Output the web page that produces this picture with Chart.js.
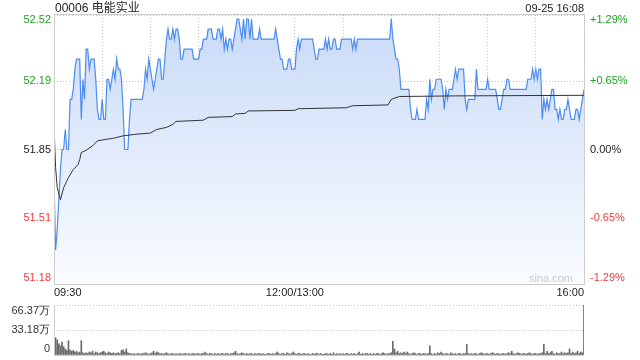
<!DOCTYPE html>
<html><head><meta charset="utf-8">
<script src="https://cdn.jsdelivr.net/npm/chart.js@4.4.0/dist/chart.umd.min.js"></script>
<style>
html,body{margin:0;padding:0;background:#fff;width:640px;height:360px;overflow:hidden;font-family:"Liberation Sans","Noto Sans CJK SC",sans-serif;}
#c1{position:absolute;left:0;top:0;}
#c2{position:absolute;left:0;top:300px;}
.t{position:absolute;color:#222;white-space:nowrap;line-height:16px;}
</style></head><body>
<canvas id="c1" width="640" height="300"></canvas>
<canvas id="c2" width="640" height="60"></canvas>
<div class="t" style="left:55px;top:0px;font-size:12px;">00006 电能实业</div>
<div class="t" style="right:56px;top:0px;font-size:11px;">09-25 16:08</div>
<script>
const prevClose = 51.85;
const priceTicks = [51.18, 51.51, 51.85, 52.19, 52.52];
const pctTicks = ['-1.29%', '-0.65%', '0.00%', '+0.65%', '+1.29%'];
const timeTicks = [0, 150, 330];
const timeLabels = ['09:30', '12:00/13:00', '16:00'];
const volTicks = [0, 33.18, 66.37];
const volLabels = ['0', '33.18万', '66.37万'];

// minute-by-minute last price, 09:30 .. 16:00 (331 minutes incl. lunch join)
const price = [
51.70,51.35,51.45,51.60,51.75,51.85,51.85,51.95,51.85,51.85,
52.10,52.10,52.15,52.25,52.30,52.30,52.30,52.00,52.20,52.10,
52.35,52.35,52.25,52.30,52.30,52.30,52.20,52.05,52.00,52.00,
52.10,52.00,52.00,52.20,52.20,52.15,52.20,52.25,52.20,52.30,
52.25,52.25,52.20,52.05,51.85,51.85,51.85,52.00,52.10,52.10,
52.10,52.10,52.10,52.10,52.10,52.10,52.15,52.25,52.20,52.30,
52.25,52.20,52.15,52.20,52.25,52.30,52.30,52.20,52.20,52.30,
52.40,52.45,52.40,52.40,52.45,52.40,52.45,52.45,52.40,52.30,
52.30,52.35,52.35,52.35,52.35,52.35,52.35,52.30,52.30,52.30,
52.30,52.35,52.35,52.40,52.40,52.40,52.45,52.45,52.45,52.40,
52.40,52.40,52.45,52.45,52.40,52.45,52.35,52.40,52.35,52.40,
52.40,52.35,52.40,52.45,52.50,52.50,52.45,52.40,52.50,52.40,
52.50,52.50,52.40,52.50,52.40,52.40,52.40,52.40,52.45,52.40,
52.40,52.40,52.40,52.40,52.40,52.40,52.40,52.40,52.45,52.40,
52.35,52.30,52.30,52.25,52.25,52.25,52.30,52.30,52.25,52.25,
52.25,52.35,52.40,52.35,52.40,52.40,52.40,52.40,52.40,52.40,
52.40,52.40,52.35,52.30,52.30,52.35,52.35,52.35,52.35,52.40,
52.35,52.40,52.35,52.35,52.40,52.40,52.35,52.35,52.35,52.40,
52.40,52.40,52.40,52.40,52.40,52.40,52.35,52.40,52.35,52.40,
52.40,52.40,52.40,52.40,52.40,52.40,52.40,52.40,52.40,52.40,
52.40,52.40,52.40,52.40,52.40,52.40,52.40,52.40,52.40,52.40,
52.50,52.40,52.35,52.30,52.30,52.25,52.15,52.15,52.15,52.15,
52.15,52.15,52.05,52.00,52.00,52.00,52.05,52.00,52.00,52.00,
52.00,52.00,52.10,52.05,52.20,52.10,52.15,52.15,52.20,52.20,
52.20,52.20,52.15,52.05,52.15,52.10,52.15,52.15,52.15,52.20,
52.25,52.20,52.25,52.25,52.25,52.25,52.10,52.05,52.10,52.10,
52.10,52.10,52.10,52.25,52.15,52.15,52.15,52.15,52.15,52.15,
52.20,52.15,52.15,52.15,52.15,52.15,52.10,52.05,52.05,52.10,
52.15,52.15,52.20,52.20,52.15,52.15,52.15,52.15,52.15,52.15,
52.15,52.15,52.15,52.15,52.15,52.20,52.20,52.20,52.25,52.20,
52.25,52.20,52.25,52.25,52.00,52.10,52.05,52.10,52.05,52.10,
52.15,52.15,52.05,52.05,52.00,52.05,52.00,52.00,52.05,52.05,
52.10,52.05,52.00,52.00,52.00,52.05,52.05,52.00,52.05,52.10,
52.15
];

// average price line, read at its turning points (minute index, price)
const avgMinute = [0,1,2,4,6,9,12,15,16,17,20,24,27,32,37,43,51,60,64,70,74,76,93,96,111,113,119,121,150,152,182,186,208,210,215,250,330];
const avgPrice = [51.97,51.76,51.66,51.60,51.66,51.71,51.75,51.775,51.80,51.835,51.846,51.868,51.893,51.900,51.906,51.918,51.926,51.932,51.950,51.960,51.975,51.990,51.996,52.010,52.014,52.027,52.030,52.042,52.045,52.053,52.058,52.068,52.072,52.100,52.114,52.117,52.120];

// volume per minute, in 万 shares
const volume = [
11,23,20,15,12,17,11,8,6,19,
7,5,6,4,5,3,4,19,3,2,
3,2,4,3,5,2,4,3,2,3,
4,5,3,2,4,3,2,3,2,2,
3,2,6,7,4,8,3,2,2,1,
2,1,2,2,1,2,2,3,2,1,
2,3,5,2,4,3,2,2,1,2,
3,2,1,2,2,1,2,1,2,2,
1,2,2,1,2,1,2,2,1,2,
2,1,2,2,4,2,1,2,2,1,
2,1,2,1,2,2,1,2,2,1,
2,2,3,5,2,1,2,3,2,1,
2,1,2,2,1,2,1,2,2,1,
2,1,1,2,2,1,2,1,2,4,
2,1,2,2,1,3,2,1,2,4,
2,1,2,2,1,2,2,1,2,1,
1,2,1,2,2,1,2,1,1,2,
2,1,2,1,3,1,2,1,2,1,
2,1,2,2,1,2,1,2,1,2,
4,1,2,1,2,2,1,2,1,2,
1,2,2,1,2,3,2,1,2,2,
3,18,8,3,5,2,3,2,4,2,
4,2,1,2,3,2,1,2,2,1,
2,2,1,2,12,2,1,2,1,3,
2,4,2,1,2,2,1,3,2,1,
2,1,2,2,1,2,2,14,2,1,
2,1,2,2,1,2,3,2,1,2,
2,1,2,3,2,1,2,2,1,2,
2,1,2,3,2,5,2,1,2,3,
2,1,2,2,1,2,3,2,1,2,
2,1,2,2,3,14,2,5,2,3,
5,2,1,3,2,2,4,2,3,2,
3,8,2,4,2,3,5,2,4,3,
66.37
];

const FONT = '"Liberation Sans", Arial, sans-serif';
const GREEN = '#1fa31f', RED = '#f03c3c', DARK = '#222';
const GRID = '#c4c4c4', BORDER = '#cccccc';
Chart.defaults.font.family = FONT;
Chart.defaults.font.size = 11;
Chart.defaults.color = '#222';

function colorFor(v) {
  if (Math.abs(v - prevClose) < 0.001) return DARK;
  return v > prevClose ? GREEN : RED;
}

const pricePlugin = {
  id: 'priceDeco',
  afterDraw(chart) {
    const ctx = chart.ctx, a = chart.chartArea, ys = chart.scales.y;
    ctx.save();
    ctx.strokeStyle = BORDER; ctx.lineWidth = 1; ctx.setLineDash([]);
    ctx.strokeRect(Math.round(a.left) + 0.5, Math.round(a.top) - 0.5, Math.round(a.right - a.left), Math.round(a.bottom - a.top) + 1);
    ctx.font = '11px ' + FONT;
    ctx.textBaseline = 'middle';
    priceTicks.forEach((v, i) => {
      let py = ys.getPixelForValue(v);
      py = Math.max(a.top + 5, Math.min(a.bottom - 6, py));
      ctx.fillStyle = colorFor(v);
      ctx.textAlign = 'right';
      ctx.fillText(v.toFixed(2), a.left - 3, py);
      ctx.textAlign = 'left';
      ctx.fillText(pctTicks[i], a.right + 6, py);
    });
    ctx.fillStyle = '#c9c9c9';
    ctx.textAlign = 'right';
    ctx.fillText('sina.com', a.right - 11, a.bottom - 5);
    ctx.restore();
  }
};

const volPlugin = {
  id: 'volDeco',
  afterDraw(chart) {
    const ctx = chart.ctx, a = chart.chartArea, ys = chart.scales.y;
    ctx.save();
    ctx.strokeStyle = BORDER; ctx.lineWidth = 1; ctx.setLineDash([]);
    ctx.beginPath();
    ctx.moveTo(Math.round(a.left) + 0.5, a.top);
    ctx.lineTo(Math.round(a.left) + 0.5, Math.round(a.bottom) + 0.5);
    ctx.lineTo(a.right, Math.round(a.bottom) + 0.5);
    ctx.stroke();
    ctx.font = '11px ' + FONT;
    ctx.textBaseline = 'middle';
    ctx.textAlign = 'right';
    ctx.fillStyle = '#333';
    volTicks.forEach((v, i) => {
      let py = ys.getPixelForValue(v);
      py = Math.max(a.top + 5.5, Math.min(a.bottom - 6.5, py));
      ctx.fillText(volLabels[i], a.left - 4, py);
    });
    ctx.restore();
  }
};

const priceData = price.map((v, i) => ({x: i, y: v}));
const avgData = avgMinute.map((m, i) => ({x: m, y: avgPrice[i]}));
const volData = volume.map((v, i) => ({x: i, y: v}));

new Chart(document.getElementById('c1'), {
  type: 'line',
  data: {
    datasets: [
      {data: avgData, borderColor: '#333', borderWidth: 1, pointRadius: 0, fill: false, tension: 0},
      {data: priceData, borderColor: '#4d8cf0', borderWidth: 1.2, pointRadius: 0, tension: 0, fill: 'start',
       backgroundColor: (c) => {
         const ch = c.chart, a = ch.chartArea;
         if (!a) return 'rgba(0,0,0,0)';
         const g = ch.ctx.createLinearGradient(0, a.top, 0, a.bottom);
         g.addColorStop(0, '#c8daf7');
         g.addColorStop(1, '#fafcff');
         return g;
       }}
    ]
  },
  options: {
    responsive: false, animation: false, devicePixelRatio: 1,
    layout: {padding: {top: 15, left: 0, right: 0, bottom: 0}},
    plugins: {legend: {display: false}, tooltip: {enabled: false}},
    scales: {
      x: {
        type: 'linear', min: 0, max: 330,
        afterBuildTicks: (s) => { const t = []; for (let m = 0; m <= 330; m += 30) t.push({value: m}); s.ticks = t; },
        afterFit: (s) => { s.height = 16; },
        ticks: {
          autoSkip: false, maxRotation: 0, align: 'inner', padding: 2, color: '#222',
          callback: (v) => { const k = timeTicks.indexOf(v); return k >= 0 ? timeLabels[k] : ''; }
        },
        grid: {color: GRID, drawTicks: false},
        border: {display: false, dash: [1, 2]}
      },
      y: {
        min: 51.18, max: 52.52,
        afterBuildTicks: (s) => { s.ticks = priceTicks.map(v => ({value: v})); },
        afterFit: (s) => { s.width = 54; },
        ticks: {display: false},
        grid: {color: GRID, drawTicks: false},
        border: {display: false, dash: [1, 2]}
      },
      y2: {
        position: 'right', min: 51.18, max: 52.52,
        afterFit: (s) => { s.width = 56; },
        ticks: {display: false},
        grid: {display: false},
        border: {display: false}
      }
    }
  },
  plugins: [pricePlugin]
});

new Chart(document.getElementById('c2'), {
  type: 'bar',
  data: {datasets: [{data: volData, backgroundColor: '#6a6a6a', barThickness: 1, borderWidth: 0}]},
  options: {
    responsive: false, animation: false, devicePixelRatio: 1,
    layout: {padding: {top: 5, bottom: 5, left: 0, right: 56}},
    plugins: {legend: {display: false}, tooltip: {enabled: false}},
    scales: {
      x: {type: 'linear', min: 0, max: 330, offset: false, display: false},
      y: {
        min: 0, max: 66.37,
        afterBuildTicks: (s) => { s.ticks = volTicks.map(v => ({value: v})); },
        afterFit: (s) => { s.width = 54; },
        ticks: {display: false},
        grid: {color: GRID, drawTicks: false},
        border: {display: false, dash: [1, 2]}
      }
    }
  },
  plugins: [volPlugin]
});
</script>
</body></html>
